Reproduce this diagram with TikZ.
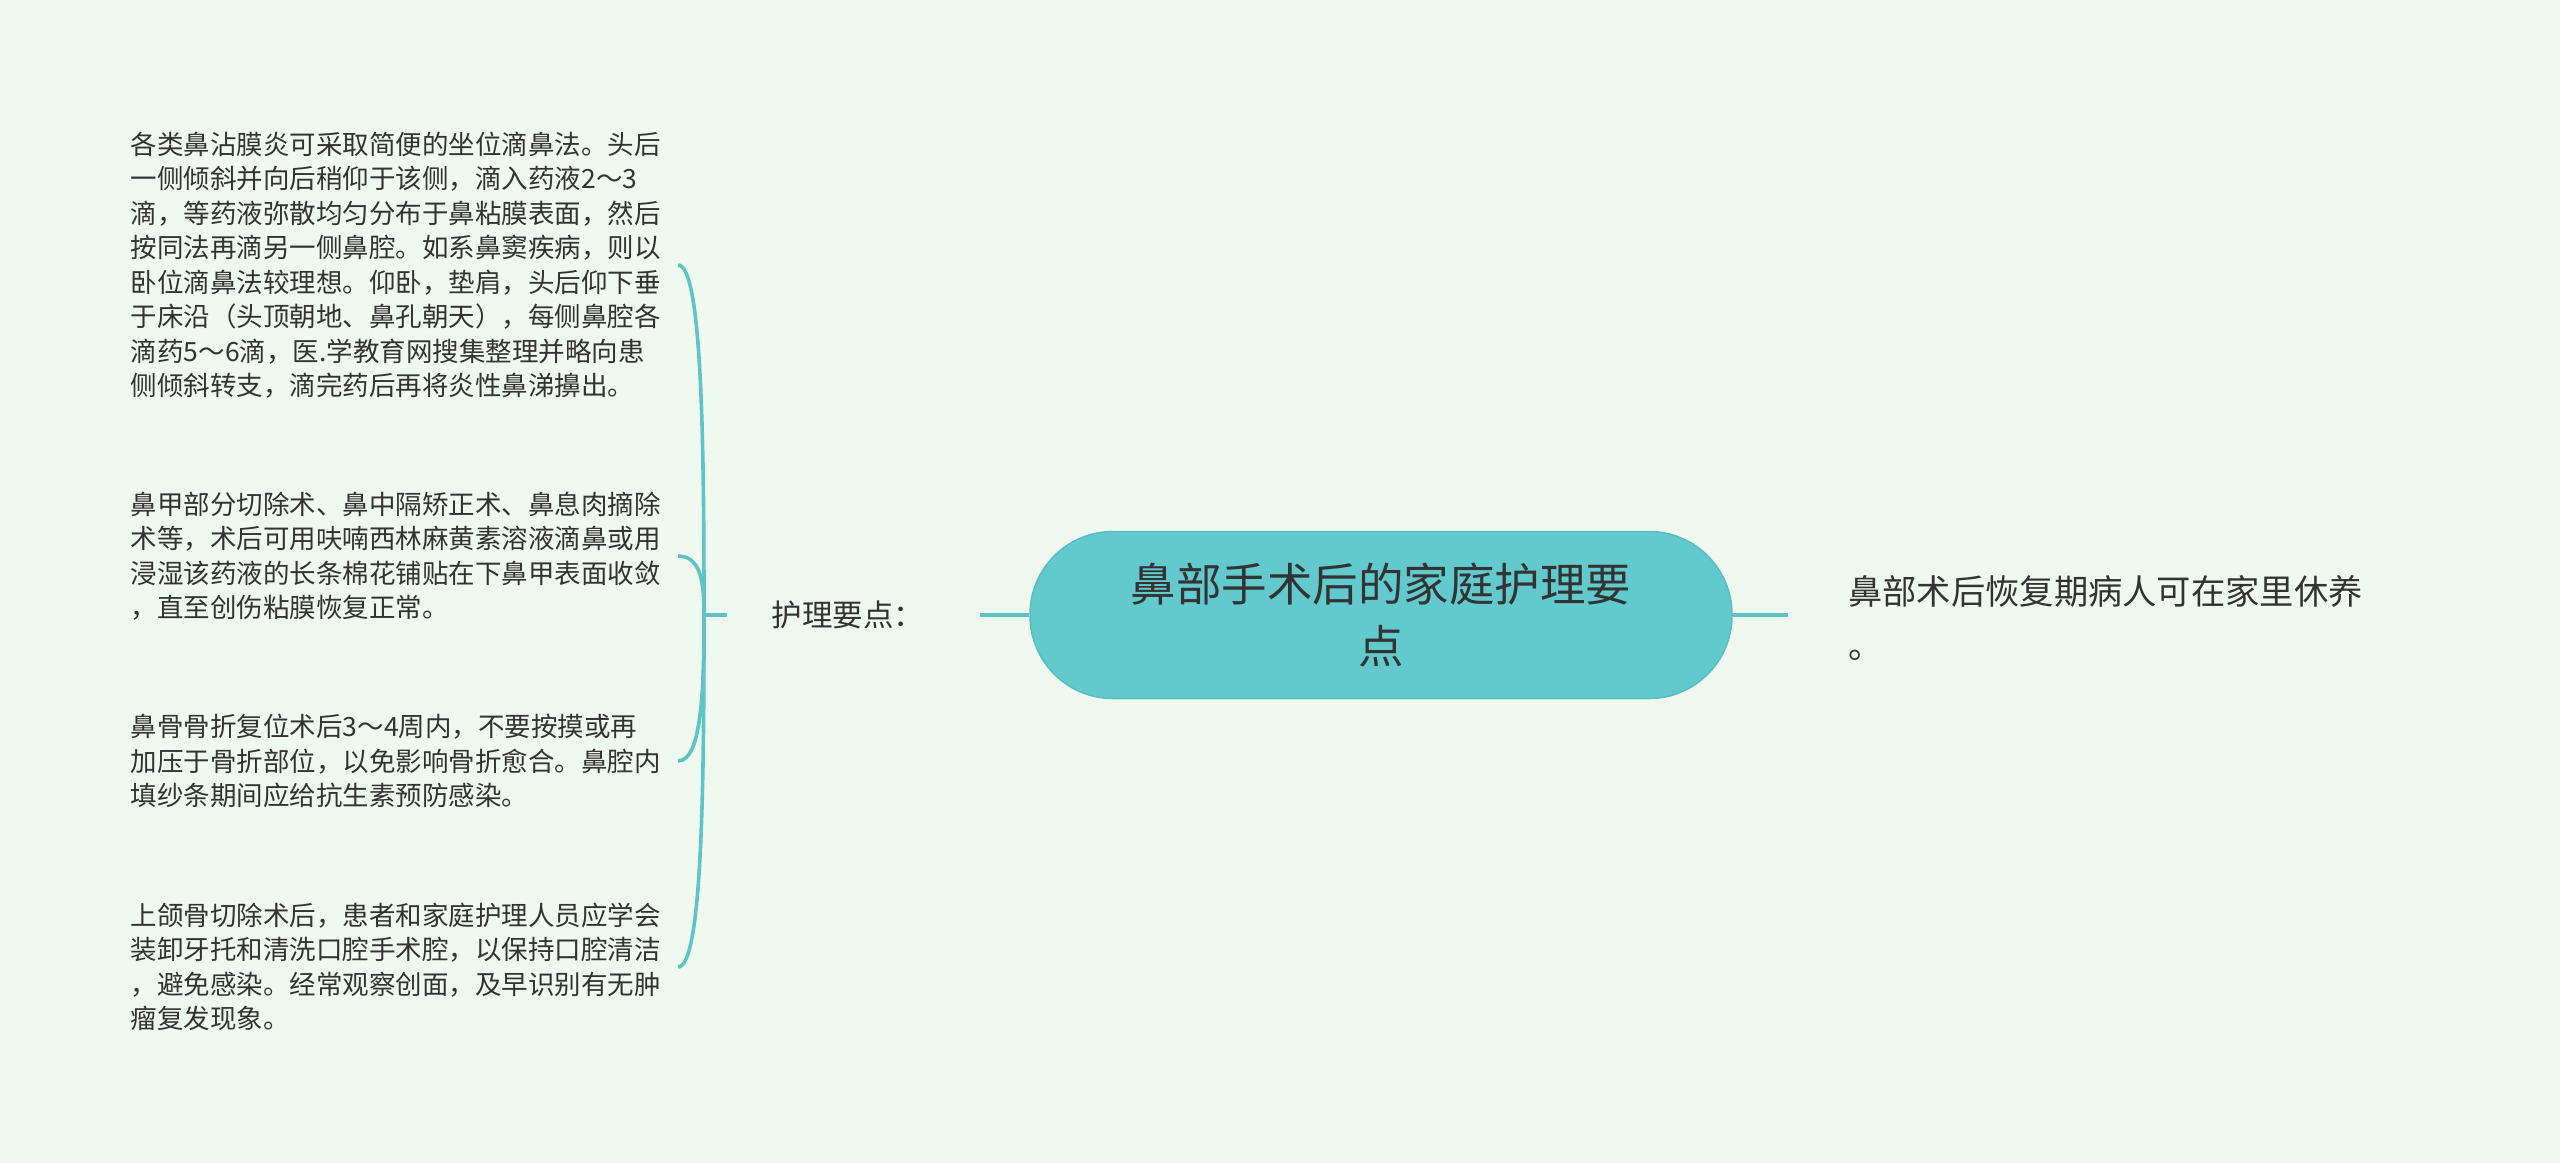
\documentclass[tikz,border=0pt]{standalone}
\usepackage{fontspec}
\usetikzlibrary{calc}
\setmainfont{Noto Sans CJK SC}
\definecolor{bgc}{HTML}{F0F9EF}
\definecolor{teal}{HTML}{62C9CD}
\definecolor{tealb}{HTML}{58BEC2}
\definecolor{linec}{HTML}{5EC4C8}
\definecolor{txt}{HTML}{333333}
\tikzset{
  conn/.style={draw=linec, line width=3.6pt},
  leaf/.style={anchor=east, text width=540pt, align=left, inner xsep=7pt, inner ysep=4pt,
    text=txt, font=\fontsize{26.5pt}{34.5pt}\selectfont},
  rootbox/.style={draw=tealb, fill=teal, line width=1.5pt, rounded corners=83pt,
    minimum width=702pt, minimum height=167pt, align=center, text=txt,
    font=\fontsize{45.5pt}{62pt}\selectfont},
  midlabel/.style={text=txt, inner xsep=0pt, font=\fontsize{30.5pt}{36pt}\selectfont},
  rightleaf/.style={anchor=west, align=left, inner xsep=60pt, text=txt,
    font=\fontsize{34.3pt}{54pt}\selectfont}
}
\begin{document}
\begin{tikzpicture}[x=1pt,y=-1pt]
\useasboundingbox (0,0) rectangle (2560,1163);
\fill[bgc] (0,0) rectangle (2560,1163);

\node[rootbox] (root) at (1381,615) {鼻部手术后的家庭护理要\\点};
\node[midlabel] (mid) at (848,615) {护理要点：};
\node[rightleaf] (right) at (1788,618) {鼻部术后恢复期病人可在家里休养\\。};

\coordinate (hub) at (704,615);
\coordinate (midin) at (727,615);
\coordinate (midout) at (980,615);

\node[leaf] (l1) at (678,265) {各类鼻沾膜炎可采取简便的坐位滴鼻法。头后\\一侧倾斜并向后稍仰于该侧，滴入药液2～3\\滴，等药液弥散均匀分布于鼻粘膜表面，然后\\按同法再滴另一侧鼻腔。如系鼻窦疾病，则以\\卧位滴鼻法较理想。仰卧，垫肩，头后仰下垂\\于床沿（头顶朝地、鼻孔朝天），每侧鼻腔各\\滴药5～6滴，医.学教育网搜集整理并略向患\\侧倾斜转支，滴完药后再将炎性鼻涕擤出。};
\node[leaf] (l2) at (678,556) {鼻甲部分切除术、鼻中隔矫正术、鼻息肉摘除\\术等，术后可用呋喃西林麻黄素溶液滴鼻或用\\浸湿该药液的长条棉花铺贴在下鼻甲表面收敛\\，直至创伤粘膜恢复正常。};
\node[leaf] (l3) at (678,761) {鼻骨骨折复位术后3～4周内，不要按摸或再\\加压于骨折部位，以免影响骨折愈合。鼻腔内\\填纱条期间应给抗生素预防感染。};
\node[leaf] (l4) at (678,967) {上颌骨切除术后，患者和家庭护理人员应学会\\装卸牙托和清洗口腔手术腔，以保持口腔清洁\\，避免感染。经常观察创面，及早识别有无肿\\瘤复发现象。};

\draw[conn] (root.west) -- (midout);
\draw[conn] (hub) -- (midin);
\draw[conn] (root.east) -- (root.east -| right.west);

\foreach \n in {l1,l2,l3,l4}{
  \draw[conn] (\n.east) .. controls ($(\n.east)+(24,0)$) and ($(\n.east |- hub)!0.5!(\n.east)+(26,0)$) .. (hub);
}
\end{tikzpicture}
\end{document}
